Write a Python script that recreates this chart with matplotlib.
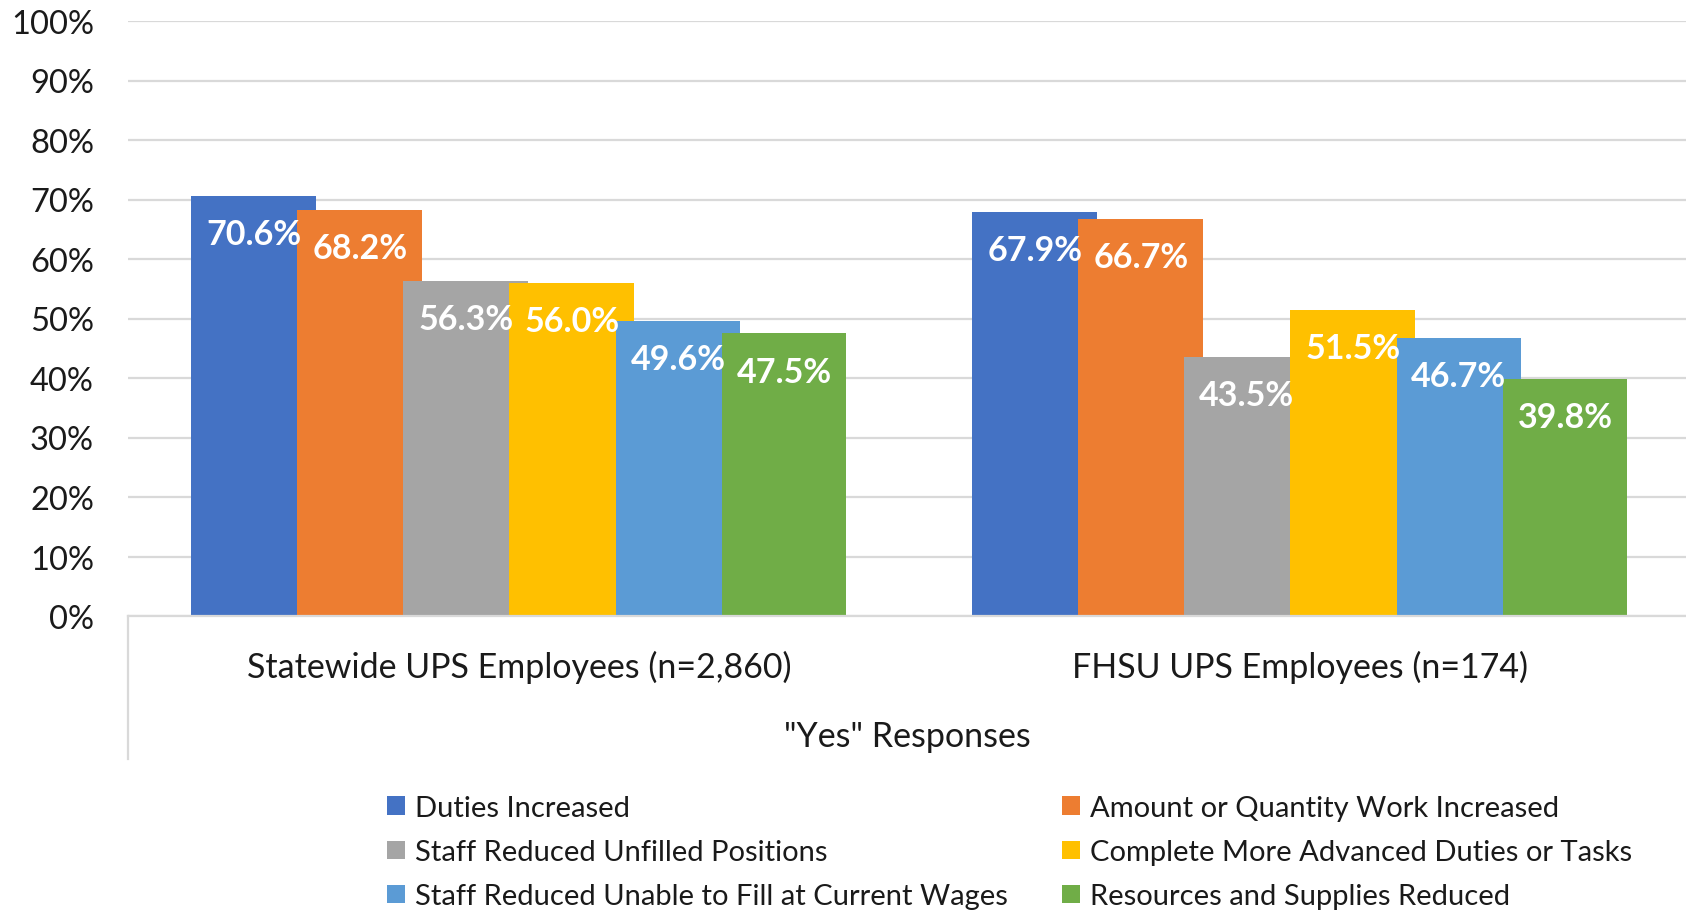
import matplotlib
matplotlib.use("Agg")
import matplotlib.pyplot as plt
from matplotlib.patches import Patch
import numpy as np

plt.rcParams['font.family'] = ['Lato', 'DejaVu Sans']

# 数据
groups = ['Statewide UPS Employees (n=2,860)', 'FHSU UPS Employees (n=174)']
series = ['Duties Increased',
          'Amount or Quantity Work Increased',
          'Staff Reduced Unfilled Positions',
          'Complete More Advanced Duties or Tasks',
          'Staff Reduced Unable to Fill at Current Wages',
          'Resources and Supplies Reduced']
statewide = [70.6, 68.2, 56.3, 56.0, 49.6, 47.5]
fhsu = [67.9, 66.7, 43.5, 51.5, 46.7, 39.8]
colors = ['#4472C4', '#ED7D31', '#A5A5A5', '#FFC000', '#5B9BD5', '#70AD47']
y_ticks = list(range(0, 101, 10))
x_title = '"Yes" Responses'

values = np.array([statewide, fhsu])
x = np.arange(len(groups))
step = 0.1358
width = 0.1597

fig = plt.figure(figsize=(16.86, 9.12), dpi=100)
ax = fig.add_axes([128 / 1686, 1 - 617 / 912, 1 - 128 / 1686, 595 / 912])

for i, name in enumerate(series):
    offset = (i - (len(series) - 1) / 2) * step
    b = ax.bar(x + offset, values[:, i], width, color=colors[i], label=name, zorder=2)
    for rect, v in zip(b, values[:, i]):
        ax.annotate(f'{v:.1f}%', (rect.get_x() + rect.get_width() / 2, v),
                    xytext=(0, -27.5), textcoords='offset points',
                    ha='center', va='center', color='white',
                    fontsize=24.5, fontweight='bold', zorder=3)

ax.set_xlim(-0.5004, 1.4945)
ax.set_ylim(0, 100)
ax.set_yticks(y_ticks)
ax.set_yticklabels([f'{t}%' for t in y_ticks])
ax.yaxis.grid(True, color='#D9D9D9', linewidth=1.6)
ax.set_axisbelow(True)
ax.tick_params(axis='y', length=0, pad=24.5, labelsize=23.5, labelcolor='#1a1a1a')

ax.set_xticks(x)
ax.set_xticklabels(groups)
ax.tick_params(axis='x', length=0, pad=24.5, labelsize=24.5, labelcolor='#1a1a1a')

for s in ['top', 'right', 'left']:
    ax.spines[s].set_visible(False)
ax.spines['bottom'].set_color('#D9D9D9')
ax.spines['bottom'].set_linewidth(1.6)
ax.spines['bottom'].set_zorder(4)

# 多级分类轴左边的竖线
ax.plot([0, 0], [0, -(760 - 617) / 595], transform=ax.transAxes, color='#D9D9D9',
        linewidth=1.6, clip_on=False)

ax.set_xlabel(x_title, fontsize=24.5, color='#1a1a1a')
ax.xaxis.set_label_coords(0.5, -(737 - 617) / 595)
ax.xaxis.label.set_va('center')

# 图例分两列
def make_legend(idx, left_px):
    handles = [Patch(facecolor=colors[i]) for i in idx]
    labels = [series[i] for i in idx]
    leg = fig.legend(handles, labels, loc='upper left',
                     bbox_to_anchor=(left_px / 1686, 1 - 796 / 912),
                     frameon=False, fontsize=21, handlelength=0.6, handleheight=0.6,
                     handletextpad=0.35, labelspacing=0.62, borderpad=0, borderaxespad=0,
                     labelcolor='#1a1a1a')
    return leg

make_legend([0, 2, 4], 387)
make_legend([1, 3, 5], 1062)

fig.savefig('out.png', dpi=100)
